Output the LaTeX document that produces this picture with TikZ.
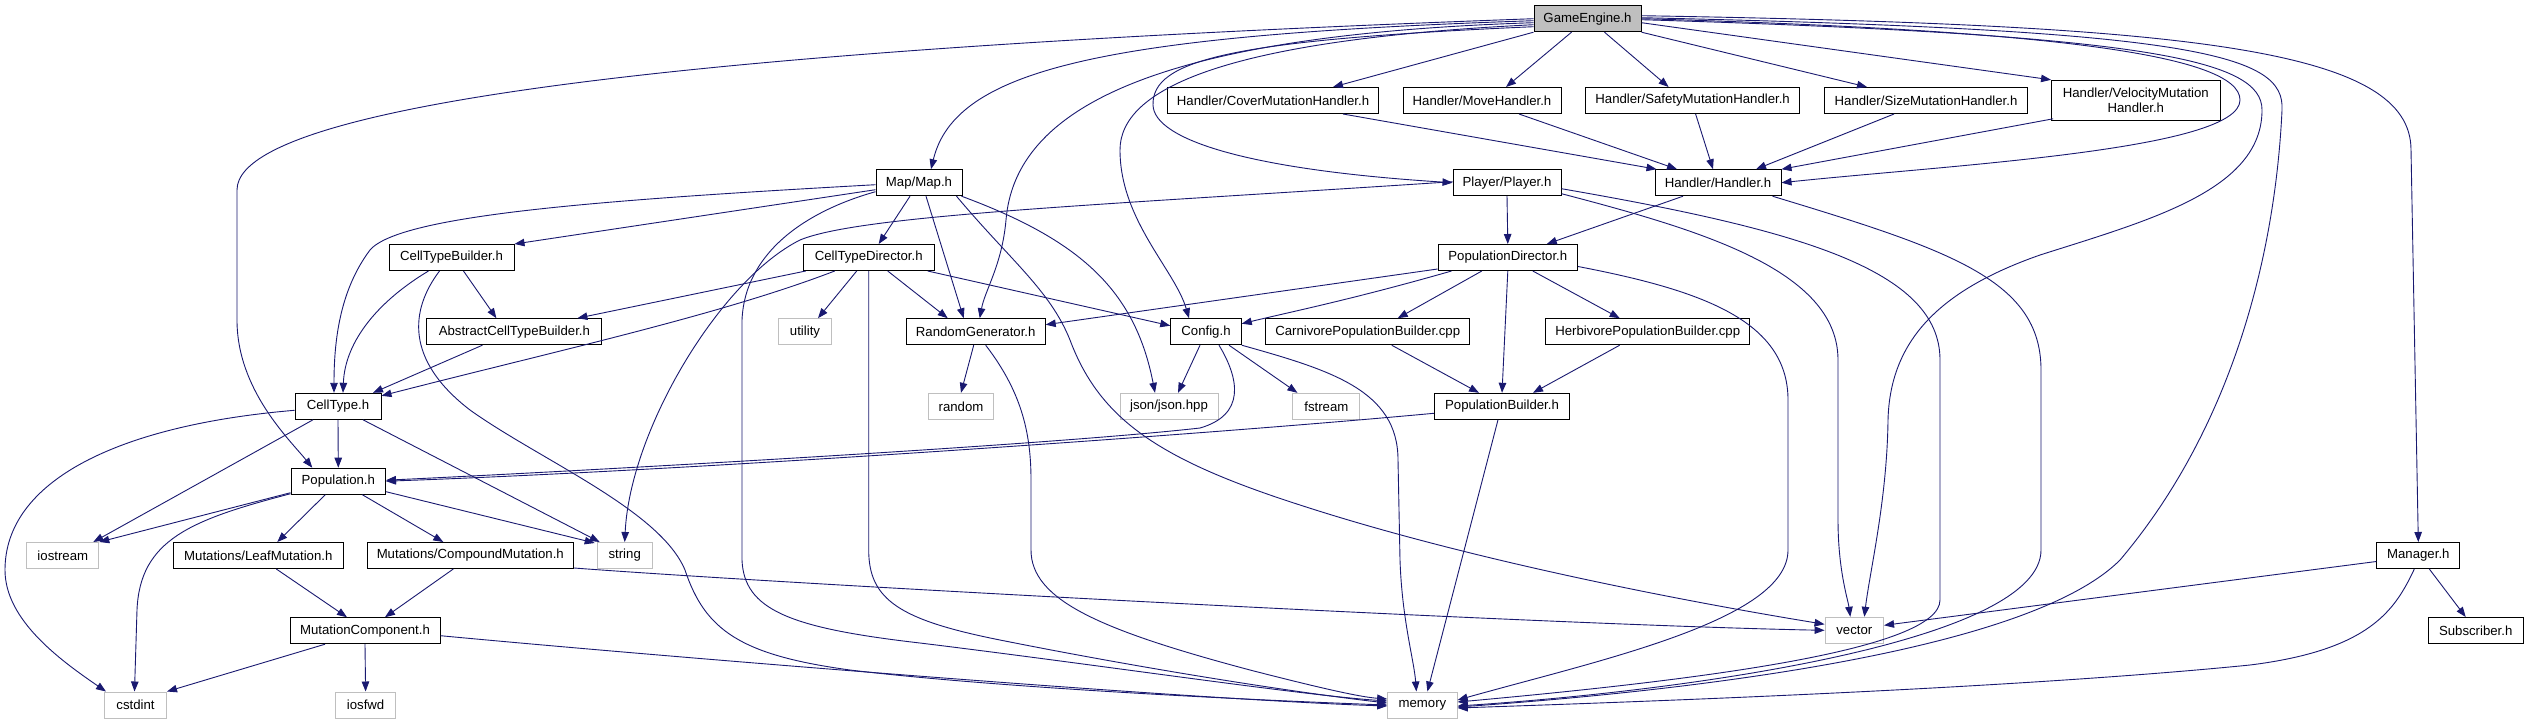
\documentclass[tikz,border=0pt]{standalone}
\usepackage{fontspec}
\setmainfont{Liberation Sans}
\usetikzlibrary{calc,arrows.meta}
\definecolor{edgeblue}{HTML}{191970}
\definecolor{sysgrey}{HTML}{BFBFBF}
\tikzset{
  box/.style={draw=black, line width=1pt, rectangle, inner sep=0pt, minimum height=26pt,
    font=\fontsize{13.2}{14.5}\selectfont, align=center},
  sys/.style={box, draw=sysgrey},
  edge/.style={draw=edgeblue, line width=0.9pt, -{Triangle[length=10pt,width=7.5pt]}},
}
\begin{document}
\begin{tikzpicture}[x=1pt,y=-1pt]
\path[use as bounding box, fill=white] (0,0) rectangle (2529,724);
% nodes
\node[box, fill=sysgrey, minimum width=107pt] (ge) at (1587.5,18.7) {GameEngine.h};
\node[box, minimum width=211pt] (cover) at (1273,100.5) {Handler/CoverMutationHandler.h};
\node[box, minimum width=158pt] (move) at (1482,100.5) {Handler/MoveHandler.h};
\node[box, minimum width=214pt] (safety) at (1692.6,100.5) {Handler/SafetyMutationHandler.h};
\node[box, minimum width=203pt] (size) at (1926,100.5) {Handler/SizeMutationHandler.h};
\node[box, minimum width=168.5pt, minimum height=40pt] (velo) at (2135.8,100.3) {Handler/VelocityMutation\\Handler.h};
\node[box, minimum width=86pt] (map) at (919,182.7) {Map/Map.h};
\node[box, minimum width=108pt] (player) at (1507,182.7) {Player/Player.h};
\node[box, minimum width=126pt] (handler) at (1718,182.7) {Handler/Handler.h};
\node[box, minimum width=125pt] (ctb) at (451.5,257.5) {CellTypeBuilder.h};
\node[box, minimum width=131pt] (ctd) at (868.7,257.5) {CellTypeDirector.h};
\node[box, minimum width=139.5pt] (popdir) at (1507.8,257.5) {PopulationDirector.h};
\node[box, minimum width=175pt] (actb) at (514.4,331.7) {AbstractCellTypeBuilder.h};
\node[sys, minimum width=53pt] (utility) at (805,331.7) {utility};
\node[box, minimum width=139pt] (rng) at (975.7,331.7) {RandomGenerator.h};
\node[box, minimum width=70.5pt] (config) at (1206,331.7) {Config.h};
\node[box, minimum width=204pt] (carn) at (1367.7,331.7) {CarnivorePopulationBuilder.cpp};
\node[box, minimum width=204.5pt] (herb) at (1647.7,331.7) {HerbivorePopulationBuilder.cpp};
\node[box, minimum width=86pt] (celltype) at (338,406.3) {CellType.h};
\node[sys, minimum width=65pt] (random) at (961,406.3) {random};
\node[sys, minimum width=98pt] (json) at (1169,406.3) {json/json.hpp};
\node[sys, minimum width=67pt] (fstream) at (1326.4,406.3) {fstream};
\node[box, minimum width=135.5pt] (popb) at (1502,406.3) {PopulationBuilder.h};
\node[box, minimum width=94.5pt] (pop) at (338.3,481.2) {Population.h};
\node[sys, minimum width=72pt] (iostream) at (62.8,555.5) {iostream};
\node[box, minimum width=170pt] (leaf) at (258.3,555.5) {Mutations/LeafMutation.h};
\node[box, minimum width=206.5pt] (compound) at (470.3,555.5) {Mutations/CompoundMutation.h};
\node[sys, minimum width=55pt] (string) at (624.7,555.5) {string};
\node[box, minimum width=83pt] (manager) at (2418.3,555.5) {Manager.h};
\node[box, minimum width=150pt] (mc) at (365,630.7) {MutationComponent.h};
\node[sys, minimum width=58.5pt] (vector) at (1854.3,630.3) {vector};
\node[box, minimum width=95pt] (subscriber) at (2475.7,630.5) {Subscriber.h};
\node[sys, minimum width=62pt] (cstdint) at (135.5,705) {cstdint};
\node[sys, minimum width=60pt] (iosfwd) at (365.6,705) {iosfwd};
\node[sys, minimum width=69.5pt] (memory) at (1422.4,705) {memory};

% GameEngine.h edges
\draw[edge] (ge.west) .. controls (1000,38) and (237,80) .. (237,190) -- (237,320) .. controls (237,390) and (290,440) .. ($(pop.north)+(-26,0)$);
\draw[edge] ($(ge.west)+(0,2)$) .. controls (1100,35) and (955,70) .. ($(map.north)+(12,0)$);
\draw[edge] ($(ge.west)+(0,4)$) .. controls (1150,35) and (1015,110) .. (1006,220) .. controls (1002,265) and (985,290) .. ($(rng.north)+(4,0)$);
\draw[edge] ($(ge.west)+(0,6)$) .. controls (1220,40) and (1120,90) .. (1120,150) .. controls (1120,220) and (1175,270) .. ($(config.north)+(-17,0)$);
\draw[edge] ($(ge.west)+(0,8)$) .. controls (1230,40) and (1152,60) .. (1153,105) .. controls (1154,140) and (1250,170) .. (player.west);
\draw[edge] (ge.south west) -- ($(cover.north)+(60,0)$);
\draw[edge] ($(ge.south)+(-16,0)$) -- ($(move.north)+(24,0)$);
\draw[edge] ($(ge.south)+(17,0)$) -- ($(safety.north)+(-24,0)$);
\draw[edge] (ge.south east) -- ($(size.north)+(-59,0)$);
\draw[edge] ($(ge.east)+(0,4)$) -- (velo.north west);
\draw[edge] (ge.east) .. controls (2050,30) and (2240,55) .. (2240,100) .. controls (2240,150) and (1950,165) .. (handler.east);
\draw[edge] ($(ge.east)+(0,1)$) .. controls (2150,35) and (2262,60) .. (2262,110) .. controls (2262,190) and (2150,220) .. (2040,255) .. controls (1940,290) and (1890,340) .. (1888,420) .. controls (1887,500) and (1870,570) .. ($(vector.north)+(10,0)$);
\draw[edge] ($(ge.east)+(0,-1)$) .. controls (2200,30) and (2285,55) .. (2282,110) .. controls (2275,260) and (2230,430) .. (2120,560) .. controls (2030,650) and (1700,690) .. ($(memory.east)+(0,2)$);
\draw[edge] ($(ge.east)+(0,-3)$) .. controls (2200,25) and (2411,50) .. (2411,150) -- (manager.north);

% handlers
\draw[edge] ($(cover.south)+(70,0)$) -- ($(handler.north west)+(2,0)$);
\draw[edge] ($(move.south)+(37,0)$) -- ($(handler.north)+(-41,0)$);
\draw[edge] ($(safety.south)+(3,0)$) -- ($(handler.north)+(-5,0)$);
\draw[edge] ($(size.south)+(-32,0)$) -- ($(handler.north)+(38,0)$);
\draw[edge] ($(velo.south west)+(2,-2)$) -- (handler.north east);
\draw[edge] ($(handler.south)+(-35,0)$) -- ($(popdir.north)+(39,0)$);
\draw[edge] ($(handler.south east)+(-9,0)$) .. controls (1950,250) and (2041,280) .. (2041,370) -- (2041,550) .. controls (2041,640) and (1700,690) .. ($(memory.east)+(0,1)$);

% Map.h
\draw[edge] ($(map.west)+(0,7)$) -- (ctb.north east);
\draw[edge] ($(map.west)+(0,2)$) .. controls (600,200) and (400,215) .. (370,250) .. controls (340,290) and (334,340) .. ($(celltype.north)+(-4,0)$);
\draw[edge] ($(map.south)+(-9,0)$) -- ($(ctd.north)+(10,0)$);
\draw[edge] ($(map.south)+(7,0)$) -- ($(rng.north)+(-12,0)$);
\draw[edge] ($(map.south east)+(-1,0)$) .. controls (1080,240) and (1135,290) .. ($(json.north)+(-14,0)$);
\draw[edge] ($(map.south east)+(-6,0)$) .. controls (1010,260) and (1050,290) .. (1070,340) .. controls (1100,420) and (1160,460) .. (1300,505) .. controls (1500,570) and (1750,612) .. ($(vector.west)+(0,-6)$);
\draw[edge] ($(map.west)+(0,9)$) .. controls (810,210) and (745,250) .. (742,320) -- (742,560) .. controls (744,610) and (790,628) .. (920,643) .. controls (1100,665) and (1300,695) .. ($(memory.west)+(0,-4)$);

% Player.h
\draw[edge] (player.south) -- (popdir.north);
\draw[edge] ($(player.west)+(0,-1)$) .. controls (1100,205) and (860,215) .. (800,240) .. controls (720,280) and (630,430) .. (string.north);
\draw[edge] ($(player.east)+(0,11)$) .. controls (1700,230) and (1838,270) .. (1838,360) -- (1838,520) .. controls (1838,570) and (1848,600) .. ($(vector.north)+(-4,0)$);
\draw[edge] ($(player.east)+(0,6)$) .. controls (1800,230) and (1940,270) .. (1940,360) -- (1940,600) .. controls (1940,650) and (1700,680) .. ($(memory.east)+(0,-3)$);

% CellTypeBuilder.h
\draw[edge] ($(ctb.south)+(12,0)$) -- ($(actb.north)+(-18,0)$);
\draw[edge] ($(ctb.south)+(-23,0)$) .. controls (380,300) and (345,340) .. ($(celltype.north)+(5,0)$);
\draw[edge] ($(ctb.south)+(-12,0)$) .. controls (410,310) and (405,360) .. (470,410) .. controls (540,460) and (660,510) .. (685,570) .. controls (705,630) and (740,655) .. (850,670) .. controls (1000,688) and (1250,700) .. (memory.west);

% CellTypeDirector.h
\draw[edge] ($(ctd.south west)+(3,0)$) -- ($(actb.north)+(63,0)$);
\draw[edge] ($(ctd.south)+(-34,0)$) .. controls (720,315) and (560,350) .. ($(celltype.north east)+(0,3)$);
\draw[edge] ($(ctd.south)+(-12,0)$) -- ($(utility.north)+(13,0)$);
\draw[edge] (ctd.south) -- (868.7,550) .. controls (868.7,600) and (900,620) .. (1000,640) .. controls (1150,670) and (1300,693) .. ($(memory.west)+(0,-2)$);
\draw[edge] ($(ctd.south)+(19,0)$) -- ($(rng.north)+(-28,0)$);
\draw[edge] ($(ctd.south east)+(-7,0)$) -- ($(config.west)+(0,-6)$);

% AbstractCellTypeBuilder.h
\draw[edge] ($(actb.south)+(-32,0)$) -- ($(celltype.north)+(35,0)$);

% PopulationDirector.h
\draw[edge] ($(popdir.south west)+(0,-2)$) -- ($(rng.east)+(0,-7)$);
\draw[edge] ($(popdir.south west)+(14,0)$) .. controls (1350,300) and (1290,312) .. ($(config.east)+(0,-8)$);
\draw[edge] ($(popdir.south)+(-26,0)$) -- ($(carn.north)+(30,0)$);
\draw[edge] (popdir.south) -- (popb.north);
\draw[edge] ($(popdir.south)+(25,0)$) -- ($(herb.north)+(-28,0)$);
\draw[edge] ($(popdir.east)+(0,9)$) .. controls (1700,290) and (1788,320) .. (1788,400) -- (1788,550) .. controls (1788,620) and (1600,660) .. ($(memory.east)+(0,-5)$);

% builders
\draw[edge] ($(carn.south)+(24,0)$) -- ($(popb.north)+(-23,0)$);
\draw[edge] ($(herb.south)+(-28,0)$) -- ($(popb.north)+(31,0)$);
\draw[edge] ($(popb.west)+(0,7)$) .. controls (1200,435) and (700,470) .. (pop.east);
\draw[edge] ($(popb.south)+(-4,0)$) -- ($(memory.north)+(5,0)$);

% RandomGenerator.h
\draw[edge] ($(rng.south)+(-2,0)$) -- (random.north);
\draw[edge] ($(rng.south)+(10,0)$) .. controls (1020,390) and (1031,430) .. (1031,480) -- (1031,550) .. controls (1031,600) and (1100,630) .. (1250,670) .. controls (1320,688) and (1360,697) .. ($(memory.west)+(0,-6)$);

% Config.h
\draw[edge] ($(config.south)+(-6,0)$) -- ($(json.north)+(9,0)$);
\draw[edge] ($(config.south)+(23,0)$) -- ($(fstream.north)+(-29,0)$);
\draw[edge] ($(config.south)+(13,0)$) .. controls (1240,380) and (1245,415) .. (1200,428) .. controls (1050,445) and (600,470) .. ($(pop.east)+(0,-1)$);
\draw[edge] (config.south east) .. controls (1330,370) and (1398,390) .. (1398,460) -- (1400,560) .. controls (1402,620) and (1414,660) .. ($(memory.north)+(-6,0)$);

% CellType.h
\draw[edge] (celltype.south) -- (pop.north);
\draw[edge] ($(celltype.south)+(-25,0)$) -- ($(iostream.north east)+(-6,0)$);
\draw[edge] ($(celltype.south)+(25,0)$) -- ($(string.north west)+(3,0)$);
\draw[edge] ($(celltype.west)+(0,4)$) .. controls (120,425) and (5,480) .. (5,570) .. controls (5,620) and (60,660) .. ($(cstdint.north west)+(2,0)$);

% Population.h
\draw[edge] ($(pop.south west)+(0,-2)$) -- (iostream.north east);
\draw[edge] ($(pop.south west)+(0,-1)$) .. controls (190,520) and (140,540) .. (137,610) -- ($(cstdint.north)+(-1,0)$);
\draw[edge] ($(pop.south)+(-13,0)$) -- ($(leaf.north)+(19,0)$);
\draw[edge] ($(pop.south)+(24,0)$) -- ($(compound.north)+(-27,0)$);
\draw[edge] ($(pop.south east)+(0,-3)$) -- ($(string.north west)+(-2,1)$);

% Mutations
\draw[edge] ($(leaf.south)+(18,0)$) -- ($(mc.north)+(-18,0)$);
\draw[edge] ($(compound.south)+(-17,0)$) -- ($(mc.north)+(20,0)$);
\draw[edge] ($(compound.south east)+(0,-1)$) .. controls (800,585) and (1550,625) .. (vector.west);
\draw[edge] ($(mc.south)+(-40,0)$) -- (cstdint.north east);
\draw[edge] (mc.south) -- (iosfwd.north);
\draw[edge] ($(mc.east)+(0,5)$) .. controls (700,660) and (1200,700) .. ($(memory.west)+(0,1)$);

% Manager.h
\draw[edge] ($(manager.west)+(0,6)$) -- ($(vector.east)+(0,-5)$);
\draw[edge] ($(manager.south)+(11,0)$) -- ($(subscriber.north)+(-10,0)$);
\draw[edge] ($(manager.south)+(-4,0)$) .. controls (2395,610) and (2370,650) .. (2250,665) .. controls (2000,690) and (1600,703) .. ($(memory.east)+(0,3)$);
\end{tikzpicture}
\end{document}
